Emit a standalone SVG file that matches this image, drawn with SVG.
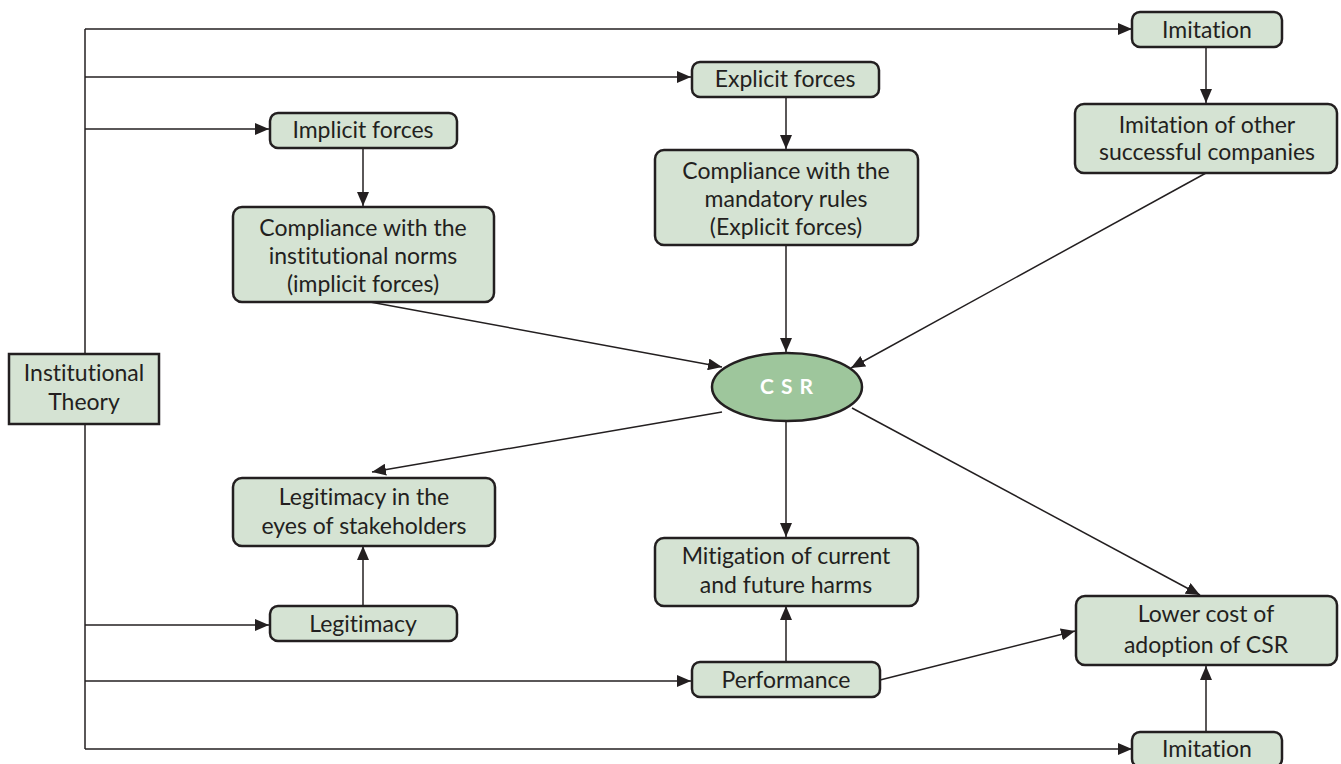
<svg xmlns="http://www.w3.org/2000/svg" width="1341" height="764" viewBox="0 0 1341 764">
  <style>
    .box { fill: #d5e3d3; stroke: #231f20; stroke-width: 2.5; }
    .lbl { font-family: Lato, "Open Sans", sans-serif; font-size: 23px; fill: #231f20; text-anchor: middle; font-variant-ligatures: none; font-feature-settings: "liga" 0, "clig" 0; }
    .wire { fill: none; stroke: #231f20; stroke-width: 1.5; }
    .arr { fill: none; stroke: #231f20; stroke-width: 1.5; marker-end: url(#head); }
  </style>
  <defs>
    <marker id="head" viewBox="0 0 14 12" refX="14" refY="6" markerWidth="14" markerHeight="12" markerUnits="userSpaceOnUse" orient="auto">
      <path d="M0,0 L14,6 L0,12 z" fill="#231f20"/>
    </marker>
  </defs>
  <rect width="1341" height="764" fill="#ffffff"/>

  <!-- connectors: trunk and branches from Institutional Theory, then flows through CSR -->
  <g id="connectors">
    <path class="wire" d="M85,29 V749"/>
    <path class="arr" d="M85,29 H1132"/>
    <path class="arr" d="M85,77 H691"/>
    <path class="arr" d="M85,129 H269"/>
    <path class="arr" d="M85,625 H269"/>
    <path class="arr" d="M85,681 H691"/>
    <path class="arr" d="M85,749 H1132"/>

    <path class="arr" d="M363,148 V206"/>
    <path class="arr" d="M786,97 V149"/>
    <path class="arr" d="M1206,47 V103"/>

    <path class="arr" d="M370,302 L722,367"/>
    <path class="arr" d="M786,245 V352"/>
    <path class="arr" d="M1206,173 L851,368"/>

    <path class="arr" d="M722,412 L372,472"/>
    <path class="arr" d="M786,420 V537"/>
    <path class="arr" d="M852,408 L1200,595"/>

    <path class="arr" d="M363,606 V546"/>
    <path class="arr" d="M786,662 V606"/>
    <path class="arr" d="M880,680 L1075,631"/>
    <path class="arr" d="M1206,732 V666"/>
  </g>

  <g id="institutional-theory">
    <rect x="9" y="354" width="150" height="70" fill="#d5e3d3" stroke="#231f20" stroke-width="2.5"/>
    <text class="lbl" x="84" y="381">Institutional</text>
    <text class="lbl" x="84" y="410">Theory</text>
  </g>

  <g id="imitation-top">
    <rect class="box" x="1132" y="12" width="150" height="35" rx="8"/>
    <text class="lbl" x="1207" y="38">Imitation</text>
  </g>
  <g id="explicit-forces">
    <rect class="box" x="692" y="62" width="187" height="35" rx="8"/>
    <text class="lbl" x="785" y="87">Explicit forces</text>
  </g>
  <g id="implicit-forces">
    <rect class="box" x="270" y="113" width="187" height="35" rx="8"/>
    <text class="lbl" x="363" y="138">Implicit forces</text>
  </g>
  <g id="imitation-of-others">
    <rect class="box" x="1075" y="104" width="262" height="69" rx="9"/>
    <text class="lbl" x="1207" y="133">Imitation of other</text>
    <text class="lbl" x="1207" y="160">successful companies</text>
  </g>
  <g id="compliance-explicit">
    <rect class="box" x="655" y="150" width="263" height="95" rx="9"/>
    <text class="lbl" x="786" y="179">Compliance with the</text>
    <text class="lbl" x="786" y="207">mandatory rules</text>
    <text class="lbl" x="786" y="235">(Explicit forces)</text>
  </g>
  <g id="compliance-implicit">
    <rect class="box" x="233" y="207" width="261" height="95" rx="9"/>
    <text class="lbl" x="363" y="236">Compliance with the</text>
    <text class="lbl" x="363" y="264">institutional norms</text>
    <text class="lbl" x="363" y="292">(implicit forces)</text>
  </g>
  <g id="csr">
    <ellipse cx="787" cy="387" rx="75" ry="34" fill="#9ec69c" stroke="#231f20" stroke-width="2.5"/>
    <text x="790" y="394" font-family="Lato, 'Open Sans', sans-serif" font-size="21" font-weight="bold" fill="#ffffff" text-anchor="middle" letter-spacing="7">CSR</text>
  </g>
  <g id="legitimacy-eyes">
    <rect class="box" x="233" y="478" width="262" height="68" rx="9"/>
    <text class="lbl" x="364" y="505">Legitimacy in the</text>
    <text class="lbl" x="364" y="534">eyes of stakeholders</text>
  </g>
  <g id="mitigation">
    <rect class="box" x="655" y="538" width="263" height="68" rx="9"/>
    <text class="lbl" x="786" y="564">Mitigation of current</text>
    <text class="lbl" x="786" y="593">and future harms</text>
  </g>
  <g id="lower-cost">
    <rect class="box" x="1076" y="596" width="261" height="69" rx="9"/>
    <text class="lbl" x="1206" y="622">Lower cost of</text>
    <text class="lbl" x="1206" y="653">adoption of CSR</text>
  </g>
  <g id="legitimacy">
    <rect class="box" x="270" y="606" width="187" height="35" rx="8"/>
    <text class="lbl" x="363" y="632">Legitimacy</text>
  </g>
  <g id="performance">
    <rect class="box" x="692" y="662" width="188" height="35" rx="8"/>
    <text class="lbl" x="786" y="688">Performance</text>
  </g>
  <g id="imitation-bottom">
    <rect class="box" x="1132" y="732" width="150" height="35" rx="8"/>
    <text class="lbl" x="1207" y="757">Imitation</text>
  </g>
</svg>
